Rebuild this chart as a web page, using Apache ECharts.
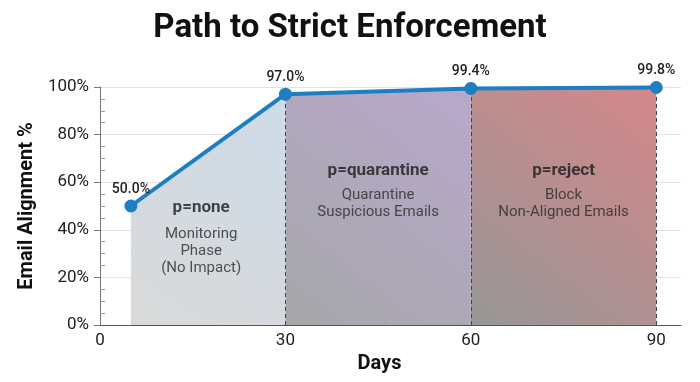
<!DOCTYPE html>
<html>
<head>
<meta charset="utf-8">
<script src="https://cdn.jsdelivr.net/npm/echarts@6/dist/echarts.min.js"></script>
<style>
  html, body { margin: 0; padding: 0; background: #ffffff; }
  #chart { width: 700px; height: 382px; }
</style>
</head>
<body>
<div id="chart"></div>
<script>
// ---- Data ----
const days = [5, 30, 60, 90];
const alignment = [50.0, 97.0, 99.4, 99.8];
const xTickValues = [0, 30, 60, 90];
const yTickValues = [0, 20, 40, 60, 80, 100];
const phaseNames = ['p=none', 'p=quarantine', 'p=reject'];
const phaseDescriptions = ['Monitoring\nPhase\n(No Impact)', 'Quarantine\nSuspicious Emails', 'Block\nNon-Aligned Emails'];

// ---- Styling (not data) ----
const FONT = 'Roboto, "Noto Sans", sans-serif';
const phaseGradients = [
  ['#d9d9d9', '#cddbe8'],
  ['#a6a7aa', '#b8a8cb'],
  ['#979797', '#d4878a']
];
const titleLevels = [49.2, 65.0, 65.0];
const descLevels = [31.0, 51.0, 51.0];
const labelShift = [-7, 0, 0];

const chart = echarts.init(document.getElementById('chart'), null, { renderer: 'canvas' });

const areaSeries = phaseNames.map((name, i) => ({
  type: 'line',
  name: 'area' + i,
  data: [[days[i], alignment[i]], [days[i + 1], alignment[i + 1]]],
  symbol: 'none',
  lineStyle: { width: 0 },
  silent: true,
  z: 1,
  areaStyle: {
    opacity: 1,
    color: new echarts.graphic.LinearGradient(0, 1, 1, 0, [
      { offset: 0, color: phaseGradients[i][0] },
      { offset: 1, color: phaseGradients[i][1] }
    ])
  }
}));

const phaseCenters = phaseNames.map((_, i) => (days[i] + days[i + 1]) / 2);

const option = {
  backgroundColor: '#ffffff',
  animation: false,
  title: {
    text: 'Path to Strict Enforcement',
    left: 'center',
    top: 7,
    textStyle: { fontFamily: FONT, fontSize: 33, fontWeight: 'bold', color: '#111' }
  },
  grid: { left: 100, right: 19, top: 87, bottom: 57 },
  xAxis: {
    type: 'value',
    min: 0,
    max: 94,
    interval: 30,
    name: 'Days',
    nameLocation: 'middle',
    nameGap: 24,
    nameTextStyle: { fontFamily: FONT, fontSize: 20, fontWeight: 'bold', color: '#111', padding: [0, 22, 0, 0] },
    axisLine: { show: true, lineStyle: { color: '#555', width: 1 } },
    axisTick: { show: false },
    splitLine: { show: false },
    axisLabel: {
      fontFamily: FONT, fontSize: 17, color: '#222', margin: 7,
      formatter: v => (xTickValues.indexOf(v) >= 0 ? String(v) : '')
    }
  },
  yAxis: [
    {
      type: 'value',
      min: 0,
      max: 100,
      interval: 20,
      name: 'Email Alignment %',
      nameLocation: 'middle',
      nameGap: 62,
      nameTextStyle: { fontFamily: FONT, fontSize: 20, fontWeight: 'bold', color: '#111' },
      axisLine: { show: true, lineStyle: { color: '#777', width: 1 } },
      axisTick: { show: true, length: 6, lineStyle: { color: '#777' } },
      splitLine: { show: true, lineStyle: { color: '#e3e3e3', width: 1 } },
      axisLabel: {
        fontFamily: FONT, fontSize: 17, color: '#222', margin: 11,
        formatter: v => (yTickValues.indexOf(v) >= 0 ? v + '%' : '')
      }
    },
    {
      type: 'value',
      position: 'left',
      min: 0,
      max: 100,
      interval: 20,
      axisLine: { show: false },
      axisTick: { show: false, inside: true },
      minorTick: { show: true, splitNumber: 4, length: 5, lineStyle: { color: '#999' } },
      splitLine: { show: false },
      axisLabel: { show: false }
    }
  ],
  series: [
    ...areaSeries,
    {
      type: 'line',
      name: 'Email Alignment',
      data: days.map((d, i) => [d, alignment[i]]),
      symbol: 'circle',
      symbolSize: 13,
      z: 5,
      lineStyle: { color: '#1d7ec2', width: 4 },
      itemStyle: { color: '#1d7ec2' },
      label: {
        show: true,
        position: 'top',
        distance: 3,
        fontFamily: FONT,
        fontSize: 14,
        fontWeight: 500,
        color: '#222',
        formatter: p => p.value[1].toFixed(1) + '%'
      },
      markLine: {
        silent: true,
        symbol: 'none',
        label: { show: false },
        lineStyle: { color: '#444', type: [4, 3], width: 1 },
        data: days.slice(1).map((d, i) => [
          { coord: [d, 0] },
          { coord: [d, alignment[i + 1]] }
        ])
      }
    },
    {
      type: 'scatter',
      name: 'phaseTitles',
      symbolSize: 0,
      silent: true,
      z: 6,
      data: phaseNames.map((n, i) => ({ value: [phaseCenters[i], titleLevels[i]], name: n, label: { offset: [labelShift[i], 0] } })),
      label: {
        show: true,
        position: 'inside',
        fontFamily: FONT,
        fontSize: 17,
        fontWeight: 'bold',
        color: '#1a1a1a',
        formatter: p => p.name
      }
    },
    {
      type: 'scatter',
      name: 'phaseDesc',
      symbolSize: 0,
      silent: true,
      z: 6,
      data: phaseDescriptions.map((d, i) => ({ value: [phaseCenters[i], descLevels[i]], name: d, label: { offset: [labelShift[i], 0] } })),
      label: {
        show: true,
        position: 'inside',
        fontFamily: FONT,
        fontSize: 15,
        lineHeight: 17,
        align: 'center',
        color: '#2a2a2a',
        formatter: p => p.name
      }
    }
  ]
};

chart.setOption(option);
</script>
</body>
</html>
